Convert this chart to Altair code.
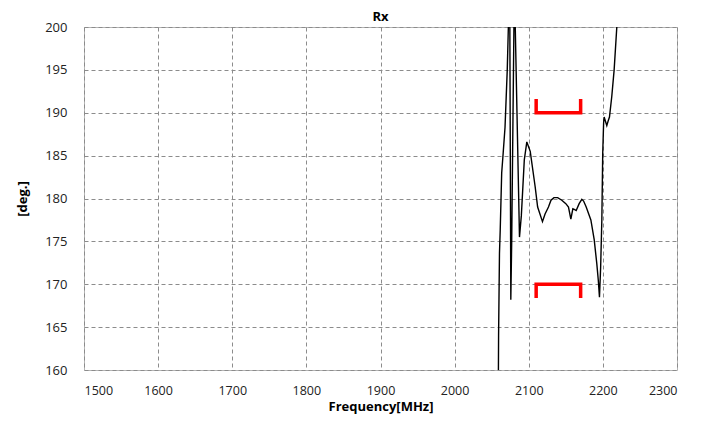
import altair as alt
import pandas as pd

# Rx phase curve (frequency MHz, phase deg.)
freq = [2058.8, 2059.3, 2060.5, 2061.5, 2063.5, 2065.5, 2068.0, 2071.0, 2072.5, 2073.5,
        2074.5, 2075.8, 2077.0, 2080.0, 2080.8, 2081.8, 2087.5, 2090.0, 2094.0, 2097.4,
        2102.0, 2108.6, 2112.0, 2118.5, 2122.0, 2126.6, 2130.0, 2134.0, 2139.0, 2144.6,
        2150.0, 2153.6, 2156.8, 2159.5, 2162.0, 2164.0, 2168.0, 2171.6, 2174.0, 2177.5,
        2183.8, 2188.3, 2191.8, 2193.8, 2195.4, 2197.0, 2198.6, 2199.8, 2201.0, 2201.7,
        2203.5, 2205.3, 2207.0, 2208.9, 2212.0, 2215.2, 2218.8, 2220.0]
phase = [155.0, 164.0, 173.6, 176.3, 183.0, 185.3, 188.3, 195.0, 200.0, 203.0,
         200.0, 168.2, 175.0, 200.0, 203.0, 200.0, 175.5, 178.0, 184.5, 186.6,
         185.5, 181.4, 179.0, 177.3, 178.2, 179.0, 179.8, 180.1, 180.1, 179.8,
         179.4, 179.0, 177.6, 178.8, 178.7, 178.6, 179.4, 179.9, 179.7, 179.0,
         177.5, 175.2, 172.4, 170.5, 168.5, 172.0, 177.5, 185.3, 188.8, 189.5,
         189.0, 188.5, 189.0, 189.5, 191.9, 195.0, 200.0, 202.0]

# Spec limit brackets
br_group = ["upper"] * 4 + ["lower"] * 4
br_order = [0, 1, 2, 3] * 2
br_freq = [2110, 2110, 2170, 2170, 2110, 2110, 2170, 2170]
br_val = [191.6, 190, 190, 191.6, 168.4, 170, 170, 168.4]

x_ticks = [1500, 1600, 1700, 1800, 1900, 2000, 2100, 2200, 2300]
y_ticks = [160, 165, 170, 175, 180, 185, 190, 195, 200]
chart_title = ["Rx"]

curve = pd.DataFrame({"f": freq, "p": phase, "i": range(len(freq))})
brackets = pd.DataFrame({"f": br_freq, "p": br_val, "g": br_group, "o": br_order})
titles = pd.DataFrame({"t": chart_title})

FONT = "Open Sans"

xs = alt.Scale(domain=[1500, 2300], nice=False, zero=False)
ys = alt.Scale(domain=[160, 200], nice=False, zero=False)

x_axis = alt.Axis(values=x_ticks, title="Frequency[MHz]", labelPadding=14,
                  labelFontSize=12.5,
                  titleY=40.5, titleBaseline="alphabetic", titleFontWeight="bold",
                  titleFontSize=13, format="d")
y_axis = alt.Axis(values=y_ticks, title="[deg.]", labelPadding=17,
                  titleX=-62, titleY=171.5, titleAngle=-90, titleAlign="center",
                  titleBaseline="middle", titleFontWeight="bold", titleFontSize=13,
                  format="d")

line = alt.Chart(curve).mark_line(color="black", strokeWidth=1.4, clip=True).encode(
    x=alt.X("f:Q", scale=xs, axis=x_axis),
    y=alt.Y("p:Q", scale=ys, axis=y_axis),
    order="i:Q",
)

red = alt.Chart(brackets).mark_line(color="#ff0000", strokeWidth=3.5,
                                     strokeCap="butt", strokeJoin="miter").encode(
    x=alt.X("f:Q", scale=xs),
    y=alt.Y("p:Q", scale=ys),
    detail="g:N",
    order="o:Q",
)

title_mark = alt.Chart(titles).mark_text(
    font=FONT, fontSize=13, fontWeight="bold", color="#000",
    align="center", baseline="middle",
).encode(
    text="t:N",
    x=alt.value(296.5),
    y=alt.value(-10),
)

chart = (
    alt.layer(line, red, title_mark)
    .properties(
        width=593, height=343,
        autosize=alt.AutoSizeParams(type="none"),
        padding={"left": 76, "top": 19, "right": 16, "bottom": 44},
    )
    .configure_view(stroke="#b4b4b4", strokeWidth=1)
    .configure_axis(
        grid=True, gridDash=[4, 3], gridColor="#8c8c8c", gridWidth=1,
        domain=False, ticks=False,
        labelFont=FONT, labelFontSize=13, labelColor="#222",
        titleFont=FONT, titleColor="#000",
    )
)

chart.save("out.html", embed_options={"renderer": "svg", "actions": False})
